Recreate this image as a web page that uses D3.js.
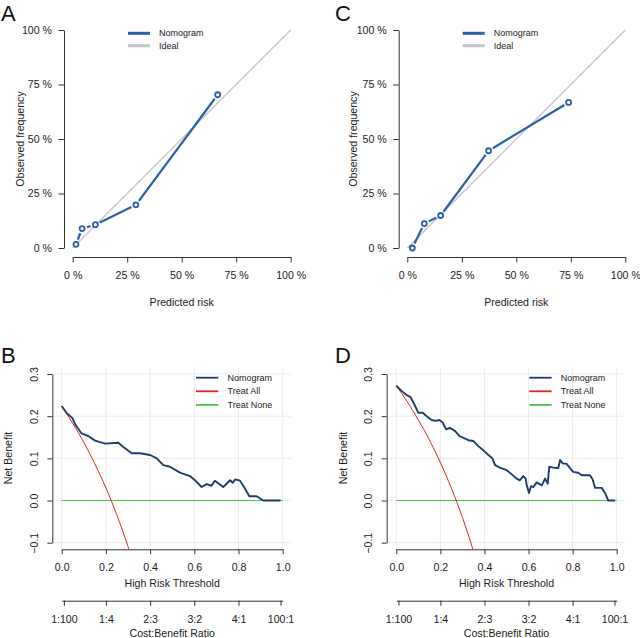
<!DOCTYPE html>
<html>
<head>
<meta charset="utf-8">
<script src="https://cdn.jsdelivr.net/npm/d3@7"></script>
<style>
  html, body { margin: 0; padding: 0; background: #fff; }
  svg { display: block; font-family: "Liberation Sans", Arial, sans-serif; }
</style>
</head>
<body>
<svg id="chart" width="640" height="638"></svg>
<script>
// ---------------- DATA ----------------
const pctTicks = [0, 0.25, 0.5, 0.75, 1];
const pctLabels = ["0 %", "25 %", "50 %", "75 %", "100 %"];

const calA_pred = [0.015, 0.043, 0.104, 0.290, 0.665];
const calA_obs  = [0.017, 0.089, 0.107, 0.198, 0.703];
const calC_pred = [0.023, 0.078, 0.153, 0.373, 0.740];
const calC_obs  = [0.000, 0.112, 0.149, 0.446, 0.668];
const ideal = [0, 1];

const calLegend = ["Nomogram", "Ideal"];
const dcaLegend = ["Nomogram", "Treat All", "Treat None"];

const nbTicks = [-0.1, 0.0, 0.1, 0.2, 0.3];
const thrTicks = [0.0, 0.2, 0.4, 0.6, 0.8, 1.0];
const ratioLabels = ["1:100", "1:4", "2:3", "3:2", "4:1", "100:1"];
const ratioThr = [0.0099, 0.2, 0.4, 0.6, 0.8, 0.990];

const dcaB_thr = [0, 0.023, 0.048, 0.063, 0.09, 0.12, 0.151, 0.196, 0.256, 0.279, 0.317, 0.354, 0.40, 0.43, 0.46, 0.49, 0.535, 0.58, 0.603, 0.633, 0.656, 0.678, 0.693, 0.731, 0.762, 0.774, 0.785, 0.807, 0.825, 0.849, 0.882, 0.912, 0.99];
const dcaB_nb  = [0.224, 0.207, 0.196, 0.179, 0.159, 0.153, 0.142, 0.135, 0.137, 0.127, 0.112, 0.112, 0.108, 0.100, 0.084, 0.080, 0.066, 0.058, 0.048, 0.032, 0.039, 0.035, 0.047, 0.032, 0.048, 0.042, 0.050, 0.047, 0.032, 0.010, 0.010, 0.000, 0.000];
const allB_thr = [0, 0.05, 0.10, 0.15, 0.20, 0.25, 0.30, 0.35];
const allB_nb  = [0.224, 0.183, 0.138, 0.087, 0.030, -0.035, -0.109, -0.194];

const dcaD_thr = [0, 0.024, 0.047, 0.065, 0.080, 0.100, 0.120, 0.138, 0.160, 0.180, 0.195, 0.210, 0.226, 0.244, 0.266, 0.286, 0.312, 0.327, 0.350, 0.372, 0.395, 0.418, 0.436, 0.448, 0.470, 0.501, 0.524, 0.546, 0.561, 0.576, 0.587, 0.592, 0.602, 0.611, 0.622, 0.637, 0.660, 0.675, 0.687, 0.694, 0.712, 0.735, 0.743, 0.755, 0.773, 0.788, 0.803, 0.826, 0.841, 0.879, 0.891, 0.902, 0.932, 0.947, 0.962, 0.992];
const dcaD_nb  = [0.272, 0.260, 0.250, 0.245, 0.230, 0.208, 0.208, 0.200, 0.191, 0.189, 0.191, 0.185, 0.169, 0.172, 0.165, 0.153, 0.147, 0.143, 0.141, 0.129, 0.119, 0.108, 0.100, 0.084, 0.078, 0.072, 0.062, 0.052, 0.048, 0.058, 0.052, 0.036, 0.018, 0.034, 0.032, 0.043, 0.036, 0.052, 0.040, 0.080, 0.078, 0.077, 0.096, 0.088, 0.087, 0.077, 0.068, 0.066, 0.060, 0.060, 0.050, 0.030, 0.030, 0.018, 0.000, 0.000];
const allD_thr = [0, 0.05, 0.10, 0.15, 0.20, 0.25, 0.30, 0.35, 0.40];
const allD_nb  = [0.272, 0.234, 0.191, 0.144, 0.090, 0.029, -0.040, -0.120, -0.213];
const none_thr = [0, 1];
const none_nb  = [0, 0];

// ---------------- STYLE ----------------
const FS = 10.6;
const txt = "#1a1a1a";
const nomoBlue = "#2b5fa8";
const idealGray = "#c3c3c3";
const dcaNavy = "#1e3d6b";
const redC = "#e02424";
const greenC = "#46c046";

const svg = d3.select("#chart");

function styleAxis(g) {
  g.selectAll("path.domain").attr("stroke", "#333").attr("stroke-width", 1);
  g.selectAll(".tick line").attr("stroke", "#333").attr("stroke-width", 1);
  g.selectAll(".tick text").attr("fill", txt).style("font-size", FS + "px")
    .style("font-family", "Liberation Sans, Arial, sans-serif");
}

// ---------------- CALIBRATION PANELS ----------------
function calPanel(o) {
  const x = d3.scaleLinear().domain([0, 1]).range([o.x0, o.x1]);
  const y = d3.scaleLinear().domain([0, 1]).range([o.y0, o.y1]);
  const g = svg.append("g");

  g.append("line")
    .attr("x1", x(ideal[0])).attr("y1", y(ideal[0]))
    .attr("x2", x(ideal[1])).attr("y2", y(ideal[1]))
    .attr("stroke", idealGray).attr("stroke-width", 1.3);

  const gap = 5;
  for (let i = 0; i < o.pred.length - 1; i++) {
    const ax = x(o.pred[i]), ay = y(o.obs[i]);
    const bx = x(o.pred[i + 1]), by = y(o.obs[i + 1]);
    const len = Math.hypot(bx - ax, by - ay);
    if (len <= 2 * gap) continue;
    const ux = (bx - ax) / len, uy = (by - ay) / len;
    g.append("line")
      .attr("x1", ax + ux * gap).attr("y1", ay + uy * gap)
      .attr("x2", bx - ux * gap).attr("y2", by - uy * gap)
      .attr("stroke", nomoBlue).attr("stroke-width", 2.2);
  }
  g.selectAll("circle.pt").data(o.pred.map((p, i) => [p, o.obs[i]]))
    .enter().append("circle")
    .attr("cx", d => x(d[0])).attr("cy", d => y(d[1])).attr("r", 2.5)
    .attr("fill", "#fff").attr("stroke", nomoBlue).attr("stroke-width", 1.8);

  const xa = g.append("g").attr("transform", `translate(0,${o.xAxisY})`)
    .call(d3.axisBottom(x).tickValues(pctTicks).tickFormat((d, i) => pctLabels[i])
      .tickSize(5.5).tickSizeOuter(0).tickPadding(9));
  styleAxis(xa);
  const ya = g.append("g").attr("transform", `translate(${o.yAxisX},0)`)
    .call(d3.axisLeft(y).tickValues(pctTicks).tickFormat((d, i) => pctLabels[i])
      .tickSize(5.5).tickSizeOuter(0).tickPadding(6.5));
  styleAxis(ya);

  g.append("text").attr("x", (o.x0 + o.x1) / 2).attr("y", 302).attr("dy", "0.35em")
    .attr("text-anchor", "middle").attr("fill", txt).style("font-size", FS + "px")
    .text("Predicted risk");
  g.append("text").attr("transform", `translate(${o.ylabX},139) rotate(-90)`)
    .attr("dy", "0.35em").attr("text-anchor", "middle").attr("fill", txt)
    .style("font-size", FS + "px").text("Observed frequency");

  const lcol = [nomoBlue, idealGray];
  calLegend.forEach((name, i) => {
    const ly = 33.3 + i * 12.4;
    g.append("line").attr("x1", o.legX).attr("x2", o.legX + 22).attr("y1", ly).attr("y2", ly)
      .attr("stroke", lcol[i]).attr("stroke-width", 3);
    g.append("text").attr("x", o.legX + 31).attr("y", ly).attr("dy", "0.35em")
      .attr("fill", txt).style("font-size", "9px").text(name);
  });

  g.append("text").attr("x", o.letX).attr("y", 21).attr("fill", "#111")
    .style("font-size", "22px").text(o.letter);
}

calPanel({ letter: "A", letX: 1, pred: calA_pred, obs: calA_obs,
  x0: 72.7, x1: 290.7, y0: 248, y1: 30, xAxisY: 257, yAxisX: 64,
  ylabX: 20.7, legX: 128 });
calPanel({ letter: "C", letX: 335, pred: calC_pred, obs: calC_obs,
  x0: 407.3, x1: 625.3, y0: 248, y1: 30, xAxisY: 257, yAxisX: 398.7,
  ylabX: 353.3, legX: 462.7 });

// ---------------- DCA PANELS ----------------
function dcaPanel(o) {
  const x = d3.scaleLinear().domain([0, 1]).range([o.x0, o.x1]);
  const y = d3.scaleLinear().domain([-0.1, 0.3]).range([542.7, 374]);
  const g = svg.append("g");
  const px0 = x(-0.04), px1 = x(1.04), py0 = y(-0.116), py1 = y(0.316);

  const clipId = "clip" + o.letter;
  svg.append("defs").append("clipPath").attr("id", clipId)
    .append("rect").attr("x", px0).attr("y", py1).attr("width", px1 - px0).attr("height", py0 - py1);

  const grid = g.append("g");
  grid.selectAll("line.v").data(thrTicks).enter().append("line")
    .attr("x1", d => x(d)).attr("x2", d => x(d)).attr("y1", py1).attr("y2", py0)
    .attr("stroke", "#ebebeb").attr("stroke-width", 1);
  grid.selectAll("line.h").data(nbTicks).enter().append("line")
    .attr("y1", d => y(d)).attr("y2", d => y(d)).attr("x1", px0).attr("x2", px1)
    .attr("stroke", "#ebebeb").attr("stroke-width", 1);

  const line = d3.line().x(d => x(d[0])).y(d => y(d[1]));
  const lines = g.append("g").attr("clip-path", `url(#${clipId})`);
  lines.append("path").datum(none_thr.map((t, i) => [t, none_nb[i]]))
    .attr("d", line).attr("fill", "none").attr("stroke", greenC).attr("stroke-width", 1);
  lines.append("path").datum(o.allT.map((t, i) => [t, o.allN[i]]))
    .attr("d", line.curve(d3.curveMonotoneX)).attr("fill", "none").attr("stroke", redC).attr("stroke-width", 1);
  line.curve(d3.curveLinear);
  lines.append("path").datum(o.thr.map((t, i) => [t, o.nb[i]]))
    .attr("d", line).attr("fill", "none").attr("stroke", dcaNavy).attr("stroke-width", 1.9)
    .attr("stroke-linejoin", "round");

  const xa = g.append("g").attr("transform", `translate(0,549.3)`)
    .call(d3.axisBottom(x).tickValues(thrTicks).tickFormat(d3.format(".1f"))
      .tickSize(5).tickSizeOuter(0).tickPadding(9));
  styleAxis(xa);
  const xa2 = g.append("g").attr("transform", `translate(0,600.7)`)
    .call(d3.axisBottom(x).tickValues(ratioThr).tickFormat((d, i) => ratioLabels[i])
      .tickSize(5).tickSizeOuter(0).tickPadding(9.5));
  styleAxis(xa2);
  const ya = g.append("g").attr("transform", `translate(${o.yAxisX},0)`)
    .call(d3.axisLeft(y).tickValues(nbTicks).tickFormat(d3.format(".1f"))
      .tickSize(5).tickSizeOuter(0));
  styleAxis(ya);
  ya.selectAll(".tick text")
    .attr("x", null).attr("dy", "0.35em").attr("text-anchor", "middle")
    .attr("transform", "translate(-18.3,0) rotate(-90)")
    .text(d => d3.format(".1f")(d).replace("-", "\u2212"));

  g.append("text").attr("x", (o.x0 + o.x1) / 2).attr("y", 583.5).attr("dy", "0.35em")
    .attr("text-anchor", "middle").attr("fill", txt).style("font-size", FS + "px")
    .text("High Risk Threshold");
  g.append("text").attr("x", (o.x0 + o.x1) / 2).attr("y", 633.3).attr("dy", "0.35em")
    .attr("text-anchor", "middle").attr("fill", txt).style("font-size", FS + "px")
    .text("Cost:Benefit Ratio");
  g.append("text").attr("transform", `translate(${o.ylabX},458) rotate(-90)`)
    .attr("dy", "0.35em").attr("text-anchor", "middle").attr("fill", txt)
    .style("font-size", FS + "px").text("Net Benefit");

  const lcol = [dcaNavy, redC, greenC];
  dcaLegend.forEach((name, i) => {
    const ly = 377.7 + i * 13.6;
    g.append("line").attr("x1", o.legX).attr("x2", o.legX + 22.3).attr("y1", ly).attr("y2", ly)
      .attr("stroke", lcol[i]).attr("stroke-width", 1.8);
    g.append("text").attr("x", o.legX + 31.5).attr("y", ly).attr("dy", "0.35em")
      .attr("fill", txt).style("font-size", "9px").text(name);
  });

  g.append("text").attr("x", o.letX).attr("y", 362.5).attr("fill", "#111")
    .style("font-size", "22px").text(o.letter);
}

dcaPanel({ letter: "B", letX: 1, thr: dcaB_thr, nb: dcaB_nb, allT: allB_thr, allN: allB_nb,
  x0: 61.7, x1: 282.7, yAxisX: 52.3, ylabX: 8.5, legX: 196 });
dcaPanel({ letter: "D", letX: 335, thr: dcaD_thr, nb: dcaD_nb, allT: allD_thr, allN: allD_nb,
  x0: 396.3, x1: 616.7, yAxisX: 386.7, ylabX: 343, legX: 529.3 });
</script>
</body>
</html>
